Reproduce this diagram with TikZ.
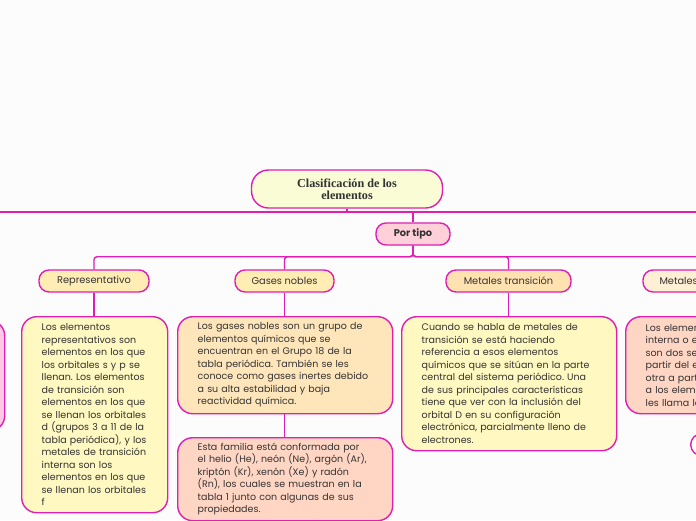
\documentclass[tikz,border=0pt]{standalone}
\usepackage{fontspec}
\setmainfont{Poppins}
\newfontfamily\titlefont{Liberation Serif}
\usetikzlibrary{positioning}
\frenchspacing

\definecolor{edge}{HTML}{E01DB5}
\definecolor{ink}{HTML}{333333}
\definecolor{paper}{HTML}{FCFCFC}
\definecolor{titlefill}{HTML}{FAFCD6}
\definecolor{pinkfill}{HTML}{FFD0D8}
\definecolor{labelfill}{HTML}{FFEDB4}
\definecolor{peachfill}{HTML}{FFE2B0}
\definecolor{creamfill}{HTML}{FFEFD4}
\definecolor{yellowfill}{HTML}{FFF8C0}
\definecolor{notefill}{HTML}{FFE6BA}
\definecolor{salmonfill}{HTML}{FFD6C4}
\definecolor{rosefill}{HTML}{FFC8E4}

\begin{document}
\begin{tikzpicture}[x=1pt,y=-1pt,
    conn/.style={draw=edge, line width=1.4pt},
    topic/.style={draw=edge, line width=1.4pt, rounded corners=10pt,
        minimum height=22pt, inner sep=0pt, text=ink,
        font=\fontsize{9.8}{11}\selectfont},
    note/.style={draw=edge, line width=1.4pt, rounded corners=15pt,
        inner xsep=20pt, inner ysep=0pt, align=left, anchor=north west,
        text=ink, font=\fontsize{9.5}{12.5}\selectfont}]

\useasboundingbox (0,0) rectangle (696,520);
\fill[paper] (0,0) rectangle (696,520);
\clip (0,0) rectangle (696,520);

% Main topic
\node[draw=edge, line width=1.4pt, fill=titlefill, rounded corners=17pt,
    minimum width=191pt, minimum height=38pt, align=center, text=ink,
    font=\titlefont\bfseries\fontsize{12.2}{12.3}\selectfont]
    (title) at (347,189) {Clasificación de los\\elementos};
\coordinate (lefttip) at (-10,212);
\coordinate (righttip) at (706,212);

% Sub topic
\node[topic, fill=pinkfill, minimum width=74pt, font=\bfseries\fontsize{9.8}{11}\selectfont]
    (portipo) at (413,234) {Por tipo};

% Branches
\node[topic, fill=labelfill, minimum width=110pt] (rep) at (94,281) {Representativo};
\node[topic, fill=labelfill, minimum width=99pt] (gas) at (284.5,281) {Gases nobles};
\node[topic, fill=peachfill, minimum width=125pt] (mtr) at (508.5,281) {Metales transición};
\node[topic, fill=creamfill, minimum width=160pt] (mti) at (723,281) {Metales transición interna};

% Notes
\node[note, fill=yellowfill, text width=106pt, minimum height=196pt] (repnote) at (21,316)
    {Los elementos\\
    representativos son\\
    elementos en los que\\
    los orbitales s y p se\\
    llenan. Los elementos\\
    de transición son\\
    elementos en los que\\
    se llenan los orbitales\\
    d (grupos 3 a 11 de la\\
    tabla periódica), y los\\
    metales de transición\\
    interna son los\\
    elementos en los que\\
    se llenan los orbitales\\
    f};
\node[note, fill=notefill, text width=175pt, minimum height=97pt] (gasnote) at (177,316)
    {Los gases nobles son un grupo de\\
    elementos químicos que se\\
    encuentran en el Grupo 18 de la\\
    tabla periódica. También se les\\
    conoce como gases inertes debido\\
    a su alta estabilidad y baja\\
    reactividad química.};
\node[note, fill=salmonfill, text width=175pt, minimum height=83pt] (famnote) at (177,437)
    {Esta familia está conformada por\\
    el helio (He), neón (Ne), argón (Ar),\\
    kriptón (Kr), xenón (Xe) y radón\\
    (Rn), los cuales se muestran en la\\
    tabla 1 junto con algunas de sus\\
    propiedades.};
\node[note, fill=yellowfill, text width=175pt, minimum height=134pt] (mtrnote) at (401,316)
    {Cuando se habla de metales de\\
    transición se está haciendo\\
    referencia a esos elementos\\
    químicos que se sitúan en la parte\\
    central del sistema periódico. Una\\
    de sus principales características\\
    tiene que ver con la inclusión del\\
    orbital D en su configuración\\
    electrónica, parcialmente lleno de\\
    electrones.};
\node[note, fill=salmonfill, text width=175pt, minimum height=97pt] (minote) at (625,316)
    {Los elementos de transición\\
    interna o elementos de tierras\\
    son dos series de elementos que\\
    partir del elemento lantano y la\\
    otra a partir del actinio. Por eso\\
    a los elementos de la primera serie\\
    les llama los lantánidos.};
\node[note, fill=rosefill, text width=114pt, minimum height=110pt] (leftnote) at (-150,320) {};
\node[draw=edge, line width=1.4pt, fill=white, rounded corners=11pt,
    minimum width=60pt, minimum height=22pt, anchor=north west] (minext) at (690,433) {};

% Connectors
\draw[conn] (lefttip) -- (righttip);
\draw[conn] (title.south) -- (title.south |- lefttip);
\draw[conn] (portipo.north |- lefttip) -- (portipo.north);
\draw[conn, rounded corners=3pt] (portipo.south) -- ++(0,11) -| (rep.north);
\draw[conn, rounded corners=3pt] (portipo.south) -- ++(0,11) -| (gas.north);
\draw[conn, rounded corners=3pt] (portipo.south) -- ++(0,11) -| (mtr.north);
\draw[conn, rounded corners=3pt] (portipo.south) -- ++(0,11) -| (mti.north);
\draw[conn] (rep.south) -- (repnote.north -| rep.south);
\draw[conn] (gas.south) -- (gasnote.north -| gas.south);
\draw[conn] (gasnote.south -| gas.south) -- (famnote.north -| gas.south);
\draw[conn] (mtr.south) -- (mtrnote.north -| mtr.south);

\end{tikzpicture}
\end{document}
